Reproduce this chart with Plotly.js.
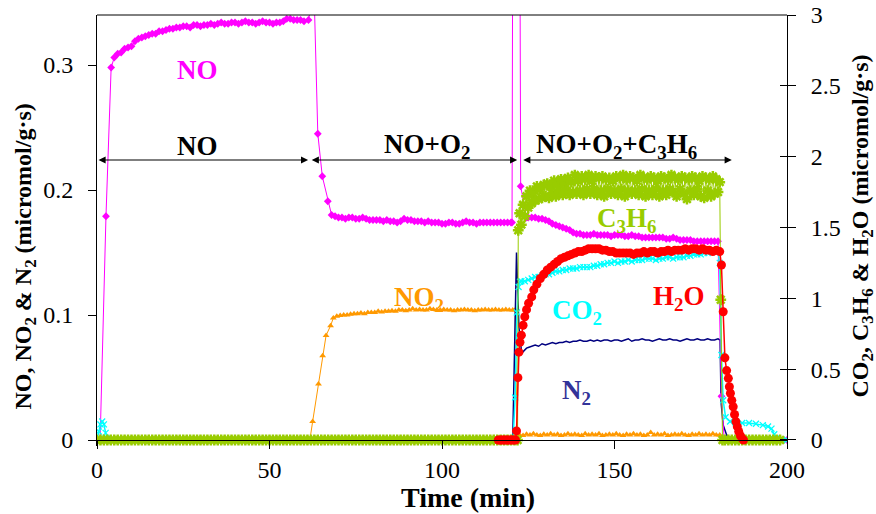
<!DOCTYPE html>
<html>
<head>
<meta charset="utf-8">
<script src="https://cdn.plot.ly/plotly-3.0.1.min.js"></script>
<style>html,body{margin:0;padding:0;background:#fff;}#chart{width:876px;height:514px;}</style>
</head>
<body>
<div id="chart"></div>
<script>
// ---------- DATA (time in min) ----------
// NO (left axis)
const tNO = [0,0.9,2.6,4.1,
5,6,7,8,9,10,11,12,13,14,15,16,17,18,19,20,21,22,23,24,25,26,27,28,29,30,31,32,33,34,35,36,37,38,39,40,41,42,43,44,45,46,47,48,49,50,51,52,53,54,55,56,57,58,59,60,
61.3,62.9,64.0,65.3,66.9,68,
69,70,71,72,73,74,75,76,77,78,79,80,81,82,83,84,85,86,87,88,89,90,91,92,93,94,95,96,97,98,99,100,101,102,103,104,105,106,107,108,109,110,111,112,113,114,115,116,117,118,119,120,
120.3,121.4,122.8,124.5,
125,126,127,128,129,130,131,132,133,134,135,136,137,138,139,140,141,142,143,144,145,146,147,148,149,150,151,152,153,154,155,156,157,158,159,160,161,162,163,164,165,166,167,168,169,170,171,172,173,174,175,176,177,178,179,180,
181.0,181.8,186,190,194,198,199,200];
const vNO = [0,0,0.179,0.298,
0.306,0.309,0.310,0.313,0.314,0.315,0.319,0.321,0.322,0.323,0.324,0.325,0.325,0.327,0.327,0.328,0.329,0.329,0.330,0.330,0.331,0.331,0.330,0.332,0.332,0.331,0.332,0.332,0.333,0.332,0.333,0.334,0.333,0.333,0.334,0.334,0.333,0.334,0.335,0.334,0.334,0.333,0.334,0.335,0.334,0.334,0.333,0.334,0.334,0.335,0.337,0.337,0.336,0.336,0.336,0.335,
0.336,0.36,0.245,0.211,0.191,0.180,
0.179,0.178,0.178,0.177,0.178,0.178,0.177,0.177,0.178,0.177,
0.176,0.176,0.176,0.176,0.175,0.176,0.175,0.175,0.174,0.175,
0.177,0.176,0.176,0.175,0.175,0.175,0.174,0.175,0.174,0.174,
0.174,0.173,0.173,0.174,0.174,0.173,0.173,0.174,0.175,0.174,
0.174,0.173,0.174,0.174,0.174,0.174,0.174,0.174,0.174,0.174,
0.174,0.174,
0.174,1.5,0.203,0.178,
0.178,0.178,0.178,0.177,0.177,0.176,0.175,0.173,0.172,0.171,
0.170,0.169,0.168,0.166,0.165,0.165,0.164,0.164,0.164,0.165,
0.164,0.164,0.164,0.164,0.163,0.164,0.164,0.164,0.163,0.163,
0.164,0.163,0.163,0.162,0.162,0.162,0.162,0.162,0.162,0.162,
0.161,0.161,0.162,0.161,0.160,0.160,0.160,0.160,0.159,0.159,
0.159,0.159,0.159,0.159,0.159,0.159,
0.035,0,0,0,0,0,0,0];

// NO2 (left axis)
const tNO2 = [0,10,20,30,40,50,60,61.7,62.5,64.2,65.4,66.4,67.7,68.5,
69.5,70.5,71.5,72.5,73.5,74.5,75.5,76.5,77.5,78.5,79.5,80.5,81.5,82.5,83.5,84.5,85.5,86.5,87.5,88.5,89.5,90.5,91.5,92.5,93.5,94.5,95.5,96.5,97.5,98.5,99.5,100.5,101.5,102.5,103.5,104.5,105.5,106.5,107.5,108.5,109.5,110.5,111.5,112.5,113.5,114.5,115.5,116.5,117.5,118.5,119.5,120.5,
121.2,121.8,
122.5,123.5,124.5,125.5,126.5,127.5,128.5,129.5,130.5,131.5,132.5,133.5,134.5,135.5,136.5,137.5,138.5,139.5,140.5,141.5,142.5,143.5,144.5,145.5,146.5,147.5,148.5,149.5,150.5,151.5,152.5,153.5,154.5,155.5,156.5,157.5,158.5,159.5,160.5,161.5,162.5,163.5,164.5,165.5,166.5,167.5,168.5,169.5,170.5,171.5,172.5,173.5,174.5,175.5,176.5,177.5,178.5,179.5,180.5,
181.3,185,190,195,200];
const vNO2 = [0,0,0,0,0,0,0,0,0.0147,0.0447,0.0674,0.0837,0.0914,0.0976,
0.099,0.0995,0.100,0.100,0.1005,0.101,0.101,0.1015,0.101,0.102,
0.102,0.102,0.103,0.1025,0.103,0.103,0.1035,0.103,0.104,0.104,
0.1035,0.104,0.105,0.104,0.1045,0.104,0.104,0.105,0.1045,0.104,
0.104,0.1045,0.104,0.104,0.1035,0.104,0.104,0.1045,0.104,0.104,
0.1035,0.104,0.104,0.1045,0.104,0.104,0.1045,0.104,0.104,0.1045,
0.104,0.104,
0.104,0.002,
0.004,0.0035,0.0045,0.004,0.005,0.004,0.0035,0.0045,0.004,0.005,
0.004,0.0045,0.0035,0.004,0.005,0.004,0.0045,0.004,0.0035,0.005,
0.004,0.0045,0.004,0.005,0.0035,0.004,0.0045,0.004,0.005,0.004,
0.0035,0.0045,0.004,0.005,0.004,0.0045,0.0035,0.004,0.006,0.004,
0.0045,0.004,0.005,0.0035,0.004,0.0045,0.004,0.005,0.004,0.0035,
0.0045,0.004,0.005,0.004,0.0045,0.004,0.005,0.004,0.004,
0,0,0,0,0];

// CO2 (right axis)
const tCO2 = [0,0.5,1,1.5,2,2.5,3,3.5,10,20,30,40,50,60,70,80,90,100,110,120,120.6,121.2,121.7,122.2,122.6,
123,124,125,126,127,128,129,130,131,132,133,134,135,136,137,138,139,140,141,142,143,144,145,146,147,148,149,150,151,152,153,154,155,156,157,158,159,160,161,162,163,164,165,166,167,168,169,170,171,172,173,174,175,176,177,178,179,180,
180.5,181.0,181.5,182.2,183.5,185,187,189,191,193,194.5,195.5,196.3,196.9,197.5,198.5,199.5,200];
const vCO2 = [0,0.06,0.11,0.13,0.11,0.05,0.01,0,0,0,0,0,0,0,0,0,0,0,0,0,0,0.3,0.9,1.08,1.117,
1.12,1.12,1.13,1.14,1.15,1.15,1.16,1.17,1.17,1.18,
1.19,1.19,1.20,1.20,1.21,1.21,1.21,1.22,1.22,1.22,
1.22,1.23,1.23,1.24,1.24,1.25,1.25,1.26,1.25,1.26,
1.26,1.27,1.26,1.27,1.27,1.27,1.28,1.28,1.28,1.27,
1.28,1.28,1.29,1.29,1.28,1.29,1.29,1.29,1.30,1.30,
1.31,1.31,1.31,1.32,1.32,1.33,1.33,1.33,
1.25,0.6,0.28,0.16,0.13,0.125,0.12,0.12,0.115,0.105,0.095,0.08,0.04,0.01,0,0,0,0];

// N2 (left axis)
const tN2 = [0,60,120.5,121.6,122.3,123.1,124.5,
125,126,127,128,129,130,131,132,133,134,135,136,137,138,139,140,141,142,143,144,145,146,147,148,149,150,151,152,153,154,155,156,157,158,159,160,161,162,163,164,165,166,167,168,169,170,171,172,173,174,175,176,177,178,179,180,
180.6,180.9,181.5,182.5,183.5,200];
const vN2 = [0,0,0,0.15,0.09,0.0695,0.0735,
0.074,0.075,0.076,0.075,0.077,0.076,0.077,0.078,0.077,0.078,
0.078,0.079,0.078,0.079,0.079,0.080,0.079,0.079,0.080,0.079,
0.080,0.079,0.080,0.080,0.079,0.080,0.080,0.079,0.080,0.081,
0.079,0.080,0.080,0.081,0.080,0.080,0.079,0.080,0.081,0.080,
0.080,0.081,0.080,0.080,0.079,0.080,0.081,0.080,0.080,0.081,
0.080,0.080,0.081,0.080,0.080,0.081,
0.080,0.03,0.012,0.004,0,0];

// C3H6 (right axis)
const tC3H6 = [0,1,2,3,4,5,6,7,8,9,10,11,12,13,14,15,16,17,18,19,20,21,22,23,24,25,26,27,28,29,30,31,32,33,34,35,36,37,38,39,40,41,42,43,44,45,46,47,48,49,50,51,52,53,54,55,56,57,58,59,60,61,62,63,64,65,66,67,68,69,70,71,72,73,74,75,76,77,78,79,80,81,82,83,84,85,86,87,88,89,90,91,92,93,94,95,96,97,98,99,100,101,102,103,104,105,106,107,108,109,110,111,112,113,114,115,116,117,118,119,120,121,121.9,
122.1,122.5,123,123.5,124,124.5,125,125.5,126,126.5,127,127.5,128,128.5,129,129.5,130,130.5,131,131.5,132,132.5,133,133.5,134,134.5,135,135.5,136,136.5,137,137.5,138,138.5,139,139.5,140,140.5,141,141.5,142,142.5,143,143.5,144,144.5,145,145.5,146,146.5,147,147.5,148,148.5,149,149.5,150,150.5,151,151.5,152,152.5,153,153.5,154,154.5,155,155.5,156,156.5,157,157.5,158,158.5,159,159.5,160,160.5,161,161.5,162,162.5,163,163.5,164,164.5,165,165.5,166,166.5,167,167.5,168,168.5,169,169.5,170,170.5,171,171.5,172,172.5,173,173.5,174,174.5,175,175.5,176,176.5,177,177.5,178,178.5,179,179.5,180,180.5,
180.8,181.3,182,183,184,185,186,187,188,189,190,191,192,193,194,195,196,197,198];
const vC3H6 = [0,0,0,0,0,0,0,0,0,0,0,0,0,0,0,0,0,0,0,0,0,0,0,0,0,0,0,0,0,0,0,0,0,0,0,0,0,0,0,0,0,0,0,0,0,0,0,0,0,0,0,0,0,0,0,0,0,0,0,0,0,0,0,0,0,0,0,0,0,0,0,0,0,0,0,0,0,0,0,0,0,0,0,0,0,0,0,0,0,0,0,0,0,0,0,0,0,0,0,0,0,0,0,0,0,0,0,0,0,0,0,0,0,0,0,0,0,0,0,0,0,0,0,
1.48,1.60,1.52,1.66,1.58,1.72,1.64,1.76,1.67,1.74,1.69,1.79,1.70,1.77,1.71,1.80,1.72,1.81,1.71,1.79,1.74,1.83,1.72,1.80,1.75,1.84,1.73,1.81,1.76,1.85,1.73,1.82,1.75,1.87,1.74,1.83,1.76,1.86,1.73,1.84,1.77,1.87,1.74,1.83,1.77,1.86,1.73,1.85,1.76,1.86,1.72,1.84,1.77,1.85,1.74,1.83,1.76,1.86,1.73,1.85,1.77,1.87,1.72,1.84,1.76,1.86,1.74,1.85,1.76,1.83,1.73,1.87,1.77,1.85,1.72,1.84,1.76,1.86,1.73,1.85,1.77,1.83,1.72,1.86,1.76,1.85,1.73,1.84,1.77,1.87,1.75,1.85,1.72,1.84,1.77,1.86,1.74,1.85,1.70,1.84,1.76,1.86,1.73,1.85,1.77,1.83,1.72,1.86,1.71,1.85,1.76,1.84,1.72,1.86,1.74,1.84,1.75,1.82,
0.99,0,0,0,0,0,0,0,0,0,0,0,0,0,0,0,0,0,0];

// H2O (right axis)
const tH2O = [116.3,116.8,117.3,117.8,118.3,118.8,119.3,119.8,120.3,120.8,121.3,121.6,122.0,122.3,122.6,123.0,123.5,124.0,124.5,125.1,126.0,126.6,
127.5,128.5,129.5,130.5,131.5,132.5,133.5,134.5,135.5,136.5,137.5,138.5,139.5,140.5,141.5,142.5,143.5,144.5,145.5,146.5,147.5,148.5,149.5,150.5,151.5,152.5,153.5,154.5,155.5,156.5,157.5,158.5,159.5,160.5,161.5,162.5,163.5,164.5,165.5,166.5,167.5,168.5,169.5,170.5,171.5,172.5,173.5,174.5,175.5,176.5,177.5,178.5,179.5,180.5,
181.0,181.5,182.0,182.5,183.0,183.3,183.6,184.0,184.4,184.8,185.2,185.6,186.0,186.5,187.0,187.4];
const vH2O = [0,0,0,0,0,0,0,0,0,0,0,0.064,0.44,0.62,0.69,0.74,0.81,0.87,0.92,0.965,1.01,1.06,
1.10,1.14,1.17,1.20,1.22,1.24,1.26,1.28,1.29,1.30,
1.31,1.32,1.33,1.33,1.34,1.35,1.35,1.35,1.35,1.34,
1.34,1.33,1.33,1.32,1.32,1.32,1.32,1.32,1.31,1.32,
1.32,1.33,1.32,1.33,1.33,1.32,1.33,1.33,1.34,1.33,
1.34,1.34,1.34,1.35,1.34,1.35,1.35,1.34,1.35,1.34,
1.34,1.33,1.34,1.33,
1.235,0.905,0.58,0.49,0.435,0.376,0.33,0.28,0.235,0.18,0.13,0.094,0.06,0.03,0.01,0];

// Axis ticks
const xTicks = [0,50,100,150,200];
const yLeftTicks = [0,0.1,0.2,0.3];
const yLeftLabels = ["0","0.1","0.2","0.3"];
const yRightTicks = [0,0.5,1,1.5,2,2.5,3];
const yRightLabels = ["0","0.5","1","1.5","2","2.5","3"];

// Phase arrows [start, end] in min, and labels
const phaseArrows = [[0,61.2],[61.8,121.8],[123.1,184.0]];
const arrowLevel = 0.224;
const phaseLabels = ["NO","NO+O<sub>2</sub>","NO+O<sub>2</sub>+C<sub>3</sub>H<sub>6</sub>"];
const phaseLabelX = [29.1,95.6,150.7];
const phaseLabelY = 0.2354;

// ---------- CHART ----------
const FONT = "Liberation Serif, Times New Roman, serif";
const C = {NO:'#FF00FF', NO2:'#FF9900', C3H6:'#99CC00', CO2:'#00FFFF', H2O:'#FF0000', N2:'#000080', N2lab:'#333399'};

const traces = [
  {x:tNO2, y:vNO2, yaxis:'y', mode:'lines+markers', line:{color:C.NO2, width:1},
   marker:{symbol:'triangle-up', size:6, color:C.NO2}, name:'NO2'},
  {x:tCO2, y:vCO2, yaxis:'y2', mode:'lines+markers', line:{color:C.CO2, width:1.5},
   marker:{symbol:'x-thin-open', size:6, color:C.CO2, line:{color:C.CO2, width:1.3}}, name:'CO2'},
  {x:tN2, y:vN2, yaxis:'y', mode:'lines', line:{color:C.N2, width:1.5}, name:'N2'},
  {x:tNO, y:vNO, yaxis:'y', mode:'lines+markers', line:{color:C.NO, width:1},
   marker:{symbol:'diamond', size:6, color:C.NO}, name:'NO'},
  {x:tC3H6, y:vC3H6, yaxis:'y2', mode:'lines+markers', line:{color:C.C3H6, width:1},
   marker:{symbol:'asterisk-open', size:9, color:C.C3H6, line:{color:C.C3H6, width:2.5}}, name:'C3H6'},
  {x:tH2O, y:vH2O, yaxis:'y2', mode:'lines+markers', line:{color:C.H2O, width:1.5},
   marker:{symbol:'circle', size:9, color:C.H2O}, name:'H2O'},
  {x:[null], y:[null], yaxis:'y3', mode:'markers', hoverinfo:'skip', name:'ticks'}
];

const annotations = [];
phaseArrows.forEach(a => {
  annotations.push({x:a[1], y:arrowLevel, ax:a[0], ay:arrowLevel, xref:'x', yref:'y', axref:'x', ayref:'y',
    text:'', showarrow:true, arrowside:'end+start', arrowhead:2, startarrowhead:2,
    arrowsize:1.3, startarrowsize:1.3, arrowwidth:1.1, arrowcolor:'#000', standoff:0, startstandoff:0});
});
phaseLabels.forEach((s,i) => {
  annotations.push({x:phaseLabelX[i], y:phaseLabelY, xref:'x', yref:'y', text:'<b>'+s+'</b>', showarrow:false,
    xanchor:'center', yanchor:'middle', font:{family:FONT, size:27, color:'#000'}});
});
const seriesLabels = [
  {t:'NO', x:29.1, y:0.2959, c:C.NO},
  {t:'NO<sub>2</sub>', x:93.3, y:0.1131, c:C.NO2},
  {t:'C<sub>3</sub>H<sub>6</sub>', x:153.5, y:0.1764, c:C.C3H6},
  {t:'CO<sub>2</sub>', x:139.0, y:0.1022, c:C.CO2},
  {t:'H<sub>2</sub>O', x:168.5, y:0.1139, c:C.H2O},
  {t:'N<sub>2</sub>', x:139.0, y:0.0381, c:C.N2lab}
];
seriesLabels.forEach(l => {
  annotations.push({x:l.x, y:l.y, xref:'x', yref:'y', text:'<b>'+l.t+'</b>', showarrow:false,
    xanchor:'center', yanchor:'middle', font:{family:FONT, size:27, color:l.c}});
});
// Axis titles
annotations.push({xref:'paper', yref:'paper', x:-0.1043, y:0.4397, xanchor:'center', yanchor:'middle', textangle:-90,
  showarrow:false, text:'<b>NO, NO<sub>2</sub> &amp; N<sub>2</sub> (micromol/g·s)</b>', font:{family:FONT, size:24, color:'#000'}});
annotations.push({xref:'paper', yref:'paper', x:1.1087, y:0.5093, xanchor:'center', yanchor:'middle', textangle:-90,
  showarrow:false, text:'<b>CO<sub>2</sub>, C<sub>3</sub>H<sub>6</sub> &amp; H<sub>2</sub>O (micromol/g·s)</b>', font:{family:FONT, size:24, color:'#000'}});
annotations.push({xref:'paper', yref:'paper', x:0.5377, y:-0.1200, xanchor:'center', yanchor:'middle',
  showarrow:false, text:'<b>Time (min)</b>', font:{family:FONT, size:28, color:'#000'}});

const axFont = {family:FONT, size:24, color:'#000'};
// The plot area reaches 6 px below the zero line so that markers sitting on zero are drawn whole;
// the time axis itself is placed exactly at zero.
const layout = {
  width:876, height:514,
  margin:{l:97, r:89, t:15, b:68, pad:0},
  paper_bgcolor:'#fff', plot_bgcolor:'#fff',
  showlegend:false,
  font:{family:FONT, color:'#000'},
  xaxis:{range:[0,200], tickvals:xTicks, ticks:'outside', ticklen:8, tickcolor:'#000', tickwidth:1,
    anchor:'free', position:0.013921,
    showline:true, linecolor:'#000', linewidth:1, showgrid:false, zeroline:false,
    tickfont:axFont, ticklabelstandoff:0},
  yaxis:{range:[-0.0048,0.34], tickvals:yLeftTicks, ticktext:yLeftLabels, ticks:'outside', ticklen:8, tickcolor:'#000', tickwidth:1,
    showline:true, linecolor:'#000', linewidth:1, showgrid:false, zeroline:false,
    tickfont:axFont, ticklabelstandoff:10},
  yaxis2:{range:[-0.0424,3], tickvals:yRightTicks, ticktext:yRightLabels, overlaying:'y', side:'right', anchor:'x',
    ticks:'outside', ticklen:8, tickcolor:'#000', tickwidth:1,
    showline:true, linecolor:'#000', linewidth:1, showgrid:false, zeroline:false,
    tickfont:axFont, ticklabelstandoff:10},
  yaxis3:{range:[-0.0424,3], tickvals:yRightTicks, overlaying:'y', side:'right', anchor:'x',
    ticks:'inside', ticklen:7, tickcolor:'#000', tickwidth:1, showticklabels:false,
    showline:false, showgrid:false, zeroline:false},
  shapes:[{type:'line', xref:'paper', yref:'paper', x0:0, x1:1, y0:1, y1:1, line:{color:'#000', width:1}}],
  annotations:annotations
};

Plotly.newPlot('chart', traces, layout, {displayModeBar:false, staticPlot:true});
</script>
</body>
</html>
